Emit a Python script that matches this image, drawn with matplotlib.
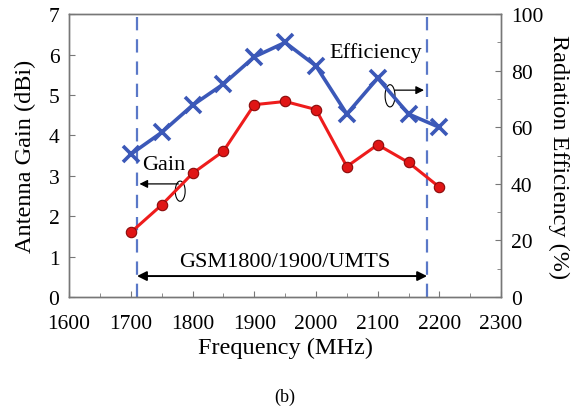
import matplotlib.pyplot as plt
import numpy as np
from matplotlib.ticker import MultipleLocator
from matplotlib.patches import Arc

plt.rcParams['font.family'] = ['Liberation Serif', 'DejaVu Serif']

freq = [1700, 1750, 1800, 1850, 1900, 1950, 2000, 2050, 2100, 2150, 2200]
gain = [1.60, 2.28, 3.06, 3.61, 4.76, 4.84, 4.64, 3.23, 3.77, 3.33, 2.72]
eff = [50.5, 58.2, 67.8, 75.3, 84.9, 90.0, 81.7, 64.7, 77.4, 64.7, 60.0]
band = [1710, 2180]

fig = plt.figure(figsize=(5.76, 4.10), dpi=100)
ax = fig.add_axes([0.120, 0.273, 0.750, 0.690])
ax2 = ax.twinx()

ax.plot(freq, gain, color='#ee1c1c', lw=2.2, marker='o', ms=7.5,
        mfc='#e01515', mec='#8a0a0a', mew=0.8, zorder=3)
ax2.plot(freq, eff, color='#3b58b8', lw=2.6, marker='x', ms=11, mew=2.6, zorder=3)

for b in band:
    ax.axvline(b, color='#5a78c8', lw=1.6, ls=(0, (6, 4)), zorder=2)

ax.set_xlim(1600, 2300)
ax.set_ylim(0, 7)
ax2.set_ylim(0, 100)
ax.xaxis.set_major_locator(MultipleLocator(100))
ax.xaxis.set_minor_locator(MultipleLocator(50))
ax.yaxis.set_major_locator(MultipleLocator(1))
ax2.yaxis.set_major_locator(MultipleLocator(20))
ax2.yaxis.set_minor_locator(MultipleLocator(10))

for a in (ax, ax2):
    for s in a.spines.values():
        s.set_color('#777777')
        s.set_linewidth(1.0)
    a.tick_params(which='both', direction='in', color='#777777', labelsize=15.5)
    a.tick_params(which='major', length=4)
    a.tick_params(which='minor', length=3)
ax.tick_params(axis='x', pad=12)
ax.tick_params(axis='y', pad=7)
ax2.tick_params(axis='y', pad=7)

ax.set_xlabel('Frequency (MHz)', fontsize=17.5, labelpad=3)
ax.set_ylabel('Antenna Gain (dBi)', fontsize=17.5, labelpad=9)
ax2.set_ylabel('Radiation Efficiency (%)', fontsize=17.5, rotation=270, labelpad=19)

# band arrow
ax.annotate('', xy=(band[0], 0.52), xytext=(band[1], 0.52),
            arrowprops=dict(arrowstyle='<|-|>', color='black', lw=1.4,
                            mutation_scale=14, shrinkA=0, shrinkB=0))
ax.text(1950, 0.89, 'GSM1800/1900/UMTS', fontsize=16, ha='center', va='center')

# series labels with arrows
ax.text(1718, 3.29, 'Gain', fontsize=16, ha='left', va='center')
ax.annotate('', xy=(1714, 2.80), xytext=(1777, 2.80),
            arrowprops=dict(arrowstyle='-|>', color='black', lw=0.9,
                            mutation_scale=12, shrinkA=0, shrinkB=0))
ax.add_patch(Arc((1780, 2.62), 16, 0.5, theta1=-90, theta2=270, color='black', lw=0.8))

ax.text(2097, 6.06, 'Efficiency', fontsize=16, ha='center', va='center')
ax.annotate('', xy=(2175, 5.12), xytext=(2128, 5.12),
            arrowprops=dict(arrowstyle='-|>', color='black', lw=0.9,
                            mutation_scale=12, shrinkA=0, shrinkB=0))
ax.add_patch(Arc((2120, 4.98), 16, 0.55, theta1=-90, theta2=270, color='black', lw=0.8))

fig.text(0.495, 0.03, '(b)', fontsize=13, ha='center', va='center')

fig.savefig('out.png', dpi=100)
